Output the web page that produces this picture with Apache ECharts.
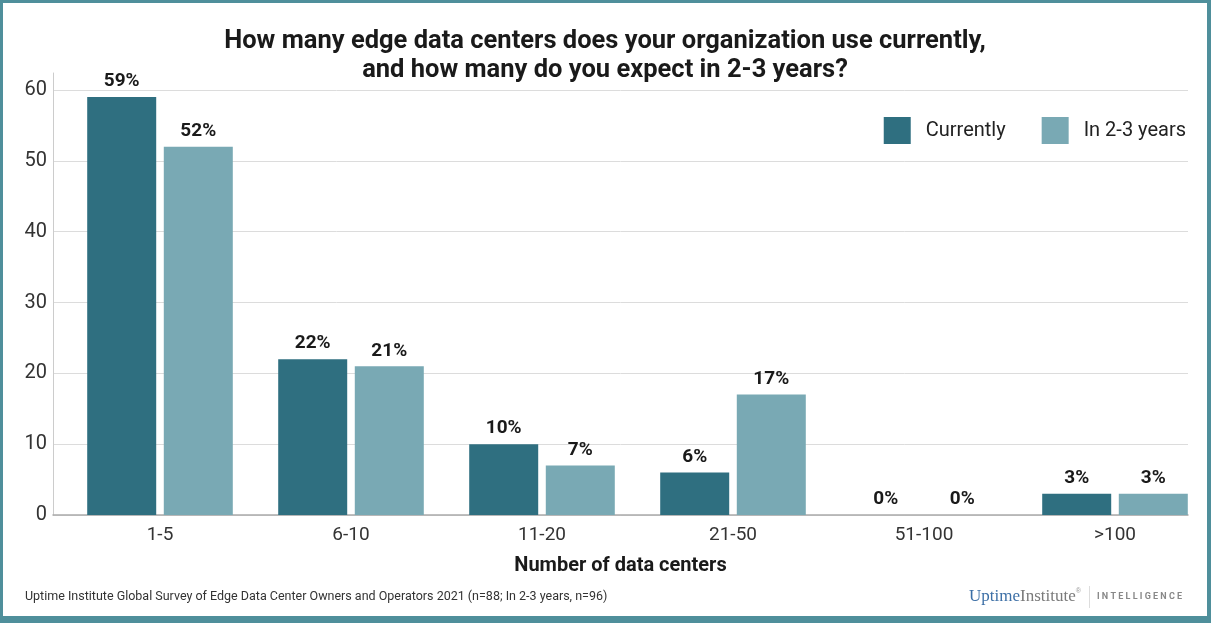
<!DOCTYPE html>
<html><head><meta charset="utf-8">
<script src="https://cdn.jsdelivr.net/npm/echarts@6/dist/echarts.min.js"></script>
<style>
html,body{margin:0;padding:0;background:#fff;}
#wrap{position:relative;width:1211px;height:623px;}
#c{position:absolute;left:0;top:0;width:1211px;height:623px;}
#frame{position:absolute;left:0;top:0;width:1211px;height:623px;box-sizing:border-box;border-style:solid;border-color:#4f8f9b;border-width:3px 4px 7px 3px;pointer-events:none;}
</style></head><body>
<div id="wrap"><div id="c"></div><div id="frame"></div></div>
<script>
const categories = ['1-5','6-10','11-20','21-50','51-100','>100'];
const currently = [59,22,10,6,0,3];
const in23years = [52,21,7,17,0,3];
const yTicks = [0,10,20,30,40,50,60];

const chart = echarts.init(document.getElementById('c'));
const font = 'Roboto, "Noto Sans", sans-serif';
const labelStyle = {show:true, position:'top', distance:6, formatter:'{c}%', fontFamily:font, fontWeight:'bold', fontSize:19, color:'#1a1a1a'};
const yMax = 62.4;
chart.setOption({
  animation:false,
  textStyle:{fontFamily:font},
  title:{
    text:'How many edge data centers does your organization use currently,\nand how many do you expect in 2-3 years?',
    left:600, top:22, textAlign:'center',
    textStyle:{fontFamily:font, fontWeight:'bold', fontSize:25.5, lineHeight:29, color:'#1a1a1a'}
  },
  legend:{
    right:20, top:112, itemWidth:27, itemHeight:27, itemGap:36, icon:'rect',
    textStyle:{fontFamily:font, fontSize:20, color:'#222', padding:[0,0,0,10]},
    data:['Currently','In 2-3 years']
  },
  grid:[
    {left:53, right:23, top:73, bottom:108},
    {left:64.5, width:1146, top:73, bottom:108}
  ],
  xAxis:[
    {gridIndex:0, type:'category', data:categories, axisLine:{show:true, lineStyle:{color:'#aaa', width:1.5}},
     axisTick:{show:false}, axisLabel:{show:false},
     name:'Number of data centers', nameLocation:'middle', nameGap:41,
     nameTextStyle:{fontFamily:font, fontWeight:'bold', fontSize:20, color:'#1a1a1a'}},
    {gridIndex:1, type:'category', data:categories, axisLine:{show:false}, axisTick:{show:false},
     axisLabel:{fontFamily:font, fontSize:19, color:'#333', margin:11}}
  ],
  yAxis:[
    {gridIndex:0, type:'value', min:0, max:yMax, interval:10,
     axisLine:{show:true, lineStyle:{color:'#ccc'}}, axisTick:{show:false},
     axisLabel:{fontFamily:font, fontSize:20, color:'#333', margin:6, showMaxLabel:false,
       formatter:v=>yTicks.includes(v)?String(v):''},
     splitLine:{showMaxLine:false, lineStyle:{color:'#dcdcdc'}}},
    {gridIndex:1, type:'value', min:0, max:yMax, interval:10, show:false, splitLine:{show:false}}
  ],
  series:[
    {name:'Currently', type:'bar', xAxisIndex:1, yAxisIndex:1, data:currently, barWidth:69, barGap:'11%',
     itemStyle:{color:'#2f6f80'}, label:labelStyle},
    {name:'In 2-3 years', type:'bar', xAxisIndex:1, yAxisIndex:1, data:in23years, barWidth:69, barGap:'11%',
     itemStyle:{color:'#79a9b4'}, label:labelStyle}
  ],
  graphic:[
    {type:'text', left:25, top:590, style:{text:'Uptime Institute Global Survey of Edge Data Center Owners and Operators 2021 (n=88; In 2-3 years, n=96)', font:'12.5px '+font, fill:'#333'}},
    {type:'text', left:969, top:588, style:{rich:{a:{fontFamily:'"Liberation Serif", serif', fontSize:17, fill:'#3c6fa6'}, b:{fontFamily:'"Liberation Serif", serif', fontSize:17, fill:'#7a7a7a'}, c:{fontSize:7, fill:'#999', verticalAlign:'top'}}, text:'{a|Uptime}{b|Institute}{c|®}'}},
    {type:'rect', shape:{x:1089, y:586, width:1, height:22}, style:{fill:'#ddd'}},
    {type:'text', left:1097, top:592, style:{text:'I N T E L L I G E N C E', font:'bold 9px '+font, fill:'#888'}}
  ]
});
</script></body></html>
